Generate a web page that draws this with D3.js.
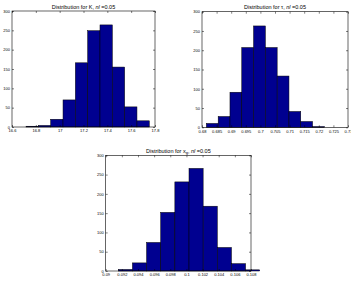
<!DOCTYPE html>
<meta charset="utf-8" />
<title>Histograms</title>
<style>
  body { margin: 0; background: #fff; }
  svg { display: block; }
  text { font-family: "Liberation Sans", Arial, sans-serif; fill: #000; }
  .tick text { font-size: 4px; }
  .title { font-size: 5.5px; }
</style>
<body>
<svg width="351" height="284"></svg>
<script src="https://d3js.org/d3.v7.min.js"></script>
<script>
  const svg = d3.select("svg");

  // K histogram
  const kStart = 16.718, kWidth = 0.1034;
  const kCounts = [2, 4, 20, 70, 166, 249, 264, 155, 52, 16];
  const kTicks = [16.6, 16.8, 17, 17.2, 17.4, 17.6, 17.8];

  // tau histogram
  const tauStart = 0.6815, tauWidth = 0.00404;
  const tauCounts = [10, 28, 91, 207, 263, 207, 133, 41, 15, 2];
  const tauTicks = [0.68, 0.685, 0.69, 0.695, 0.7, 0.705, 0.71, 0.715, 0.72, 0.725, 0.73];

  // x_g histogram
  const xgStart = 0.09156, xgWidth = 0.001752;
  const xgCounts = [4, 21, 74, 152, 231, 266, 168, 61, 19, 3];
  const xgTicks = [0.09, 0.092, 0.094, 0.096, 0.098, 0.1, 0.102, 0.104, 0.106, 0.108];

  const yTicks = [0, 50, 100, 150, 200, 250, 300];

  const panels = [
    { box: [12, 11, 155, 127], start: kStart, w: kWidth, counts: kCounts, ticks: kTicks,
      title: ["Distribution for K, ", "nl", " =0.05"], sub: null },
    { box: [202, 11.7, 348, 127.3], start: tauStart, w: tauWidth, counts: tauCounts, ticks: tauTicks,
      title: ["Distribution for τ, ", "nl", " =0.05"], sub: null },
    { box: [105.7, 155.3, 251, 271], start: xgStart, w: xgWidth, counts: xgCounts, ticks: xgTicks,
      title: ["Distribution for x", "nl", " =0.05"], sub: "g" }
  ];

  panels.forEach(p => {
    const [x0, y0, x1, y1] = p.box;
    const x = d3.scaleLinear().domain([p.ticks[0], p.ticks[p.ticks.length - 1]]).range([x0, x1]);
    const y = d3.scaleLinear().domain([0, 300]).range([y1, y0]);
    const g = svg.append("g");

    g.selectAll("rect.bar")
      .data(p.counts)
      .join("rect")
      .attr("class", "bar")
      .attr("x", (d, i) => x(p.start + i * p.w))
      .attr("width", (d, i) => x(p.start + (i + 1) * p.w) - x(p.start + i * p.w))
      .attr("y", d => y(d))
      .attr("height", d => y1 - y(d))
      .attr("fill", "#000090")
      .attr("stroke", "#000")
      .attr("stroke-width", 0.5);

    const fmt = d => String(+d.toFixed(4));
    const ax = (axis, tr) => g.append("g").attr("transform", tr).call(axis)
      .call(s => s.select(".domain").remove())
      .call(s => s.selectAll(".tick line").attr("stroke", "#000").attr("stroke-width", 0.5));

    ax(d3.axisBottom(x).tickValues(p.ticks).tickFormat(fmt).tickSize(-2).tickPadding(2.5), `translate(0,${y1})`)
      .selectAll(".tick text").attr("dy", "0.71em");
    ax(d3.axisTop(x).tickValues(p.ticks).tickFormat("").tickSize(-2), `translate(0,${y0})`);
    ax(d3.axisLeft(y).tickValues(yTicks).tickFormat(d3.format("d")).tickSize(-2).tickPadding(2), `translate(${x0},0)`);
    ax(d3.axisRight(y).tickValues(yTicks).tickFormat("").tickSize(-2), `translate(${x1},0)`);

    g.append("rect")
      .attr("x", x0).attr("y", y0)
      .attr("width", x1 - x0).attr("height", y1 - y0)
      .attr("fill", "none").attr("stroke", "#000").attr("stroke-width", 0.6);

    const t = g.append("text").attr("class", "title")
      .attr("x", (x0 + x1) / 2).attr("y", y0 - 2.5)
      .attr("text-anchor", "middle");
    t.append("tspan").text(p.title[0]);
    if (p.sub) {
      t.append("tspan").attr("dy", 1.2).attr("font-size", 4).text(p.sub);
      t.append("tspan").attr("dy", -1.2).text(", ");
    }
    t.append("tspan").attr("font-style", "italic").text(p.title[1]);
    t.append("tspan").text(p.title[2]);
  });
</script>
</body>
